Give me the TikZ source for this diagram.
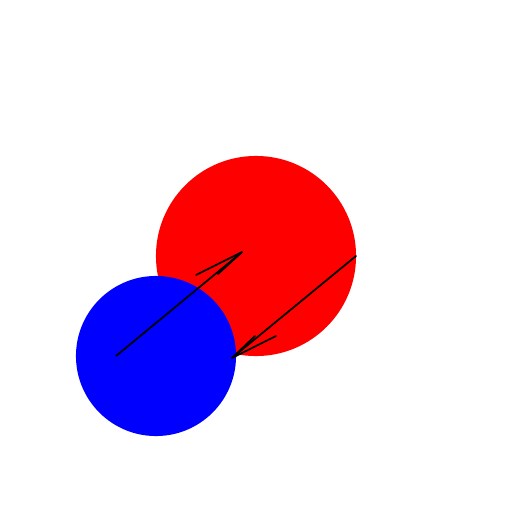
\documentclass[tikz,border=0pt]{standalone}
\begin{document}
\begin{tikzpicture}[x=0.01cm,y=-0.01cm,
  disc/.style={circle,inner sep=0pt,minimum size=#1,draw=none},
  arr/.style={black,line width=0.5pt,line cap=round,line join=round}]
\useasboundingbox (0,0) rectangle (512,512);
\node[disc=2cm,fill=red] (R) at (256,256) {};
\node[disc=1.6cm,fill=blue] (B) at (156,356) {};
\coordinate (a1s) at (116,356);
\coordinate (a1t) at (242,252);
\coordinate (a1b1) at (196,275);
\coordinate (a1b2) at (218,274);
\coordinate (a2s) at (356,256);
\coordinate (a2t) at (232,358);
\coordinate (a2b1) at (276,336);
\coordinate (a2b2) at (255,336);
\draw[arr] (a1s) -- (a1t);
\draw[arr] (a1b1) -- (a1t) -- (a1b2);
\draw[arr] (a2s) -- (a2t);
\draw[arr] (a2b1) -- (a2t) -- (a2b2);
\end{tikzpicture}
\end{document}
